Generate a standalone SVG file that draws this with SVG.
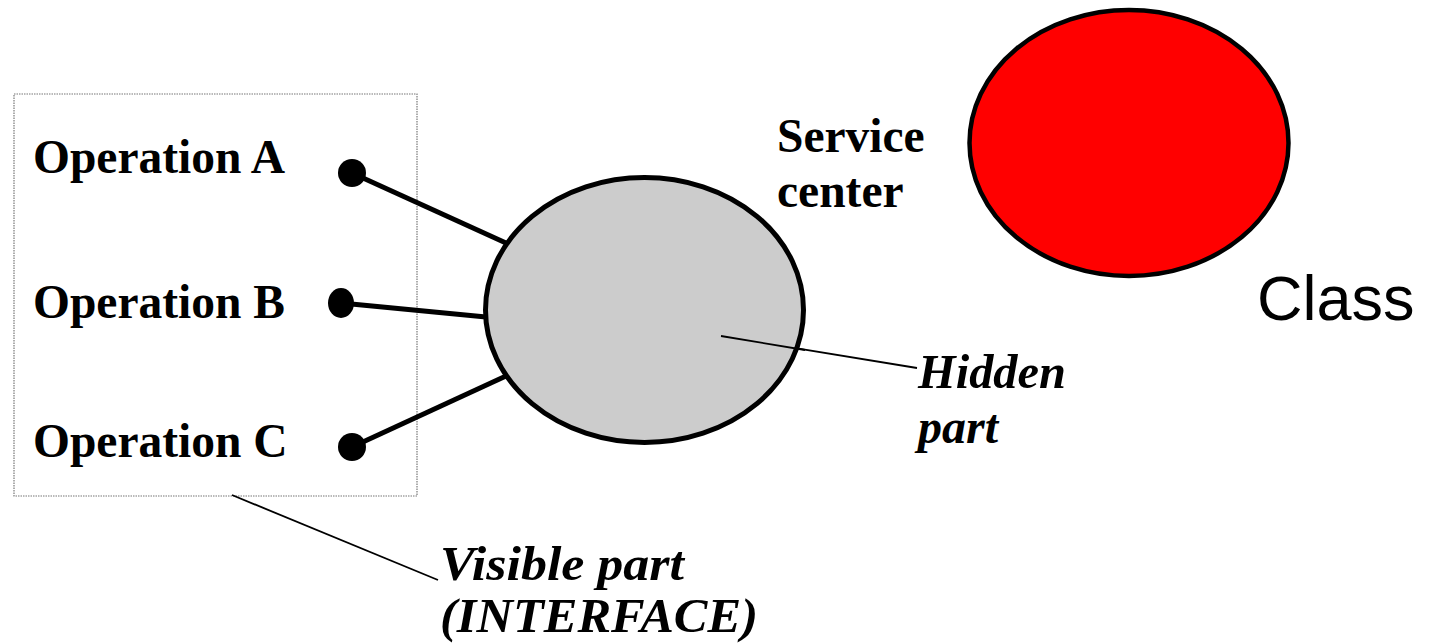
<svg xmlns="http://www.w3.org/2000/svg" width="1433" height="643" viewBox="0 0 1433 643">
  <style>
    .bold { font-family: "Liberation Serif", "Times New Roman", serif; font-weight: bold; font-size: 47.5px; fill: #000; }
    .note { font-family: "Liberation Serif", "Times New Roman", serif; font-weight: bold; font-style: italic; font-size: 48px; fill: #000; }
    .sans { font-family: "Liberation Sans", Arial, sans-serif; font-size: 63px; fill: #000; }
    .wire { stroke: #000; stroke-width: 5; fill: none; }
    .leader { stroke: #000; stroke-width: 1.8; fill: none; }
    .port { fill: #000; }
  </style>
  <rect width="1433" height="643" fill="#fff"/>

  <!-- interface frame with its operations -->
  <g id="interface">
    <rect x="14" y="94" width="403" height="402" fill="none" stroke="#777" stroke-width="1.2" stroke-dasharray="1.5 1"/>
    <text class="bold" x="33" y="173">Operation A</text>
    <text class="bold" x="33" y="318">Operation B</text>
    <text class="bold" x="33" y="457">Operation C</text>
  </g>

  <!-- connectors from operations to the service center, plus label leaders -->
  <g id="connectors">
    <line class="wire" x1="352" y1="173" x2="506" y2="243"/>
    <line class="wire" x1="341" y1="303" x2="486" y2="317"/>
    <line class="wire" x1="352" y1="447" x2="506" y2="376"/>
    <line class="leader" x1="721" y1="336" x2="917" y2="368"/>
    <line class="leader" x1="232" y1="495" x2="438" y2="580"/>
  </g>

  <g id="port-a"><ellipse class="port" cx="352" cy="173" rx="14" ry="14"/></g>
  <g id="port-b"><ellipse class="port" cx="341" cy="303" rx="13" ry="15"/></g>
  <g id="port-c"><ellipse class="port" cx="352" cy="447" rx="14" ry="14"/></g>

  <!-- service center -->
  <g id="service-center">
    <ellipse cx="644.5" cy="310" rx="159" ry="132.5" fill="#cccccc" stroke="#000" stroke-width="5"/>
    <line class="leader" x1="721" y1="336" x2="805" y2="350"/>
    <text class="bold" x="777" y="152">Service</text>
    <text class="bold" x="777" y="207">center</text>
  </g>

  <!-- class -->
  <g id="class">
    <ellipse cx="1129" cy="143" rx="159.5" ry="133" fill="#ff0000" stroke="#000" stroke-width="4.5"/>
    <text class="sans" x="1257" y="320">Class</text>
  </g>

  <g id="hidden-label">
    <text class="note" x="918" y="388" textLength="148" lengthAdjust="spacingAndGlyphs">Hidden</text>
    <text class="note" x="918" y="443">part</text>
  </g>

  <g id="visible-label">
    <text class="note" x="440" y="580" textLength="244" lengthAdjust="spacingAndGlyphs">Visible part</text>
    <text class="note" x="440" y="632" textLength="318" lengthAdjust="spacingAndGlyphs">(INTERFACE)</text>
  </g>
</svg>
